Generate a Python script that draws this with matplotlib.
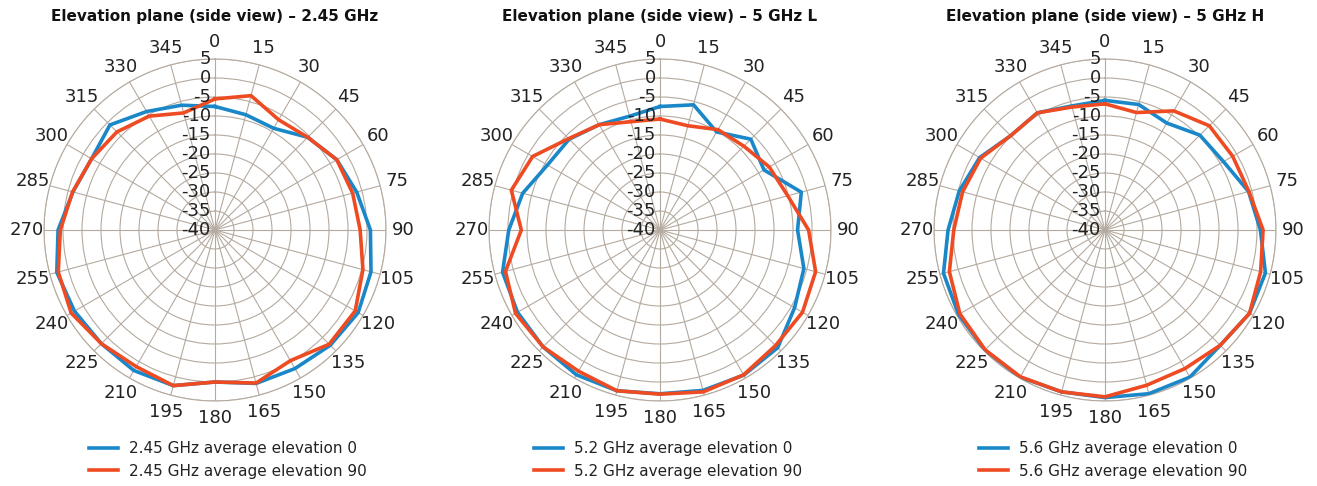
import numpy as np
import matplotlib.pyplot as plt
from matplotlib.transforms import offset_copy

angles = list(range(0, 360, 15))

titles = ['Elevation plane (side view) – 2.45 GHz',
          'Elevation plane (side view) – 5 GHz L',
          'Elevation plane (side view) – 5 GHz H']
labels0 = ['2.45 GHz average elevation 0', '5.2 GHz average elevation 0', '5.6 GHz average elevation 0']
labels90 = ['2.45 GHz average elevation 90', '5.2 GHz average elevation 90', '5.6 GHz average elevation 90']

# dB values, 0..345 step 15
g245_el0 = [-7.5, -8.6, -9.1, -5.5, -3.0, -1.4, 0.9, 2.5, 3.5, 2.9, 2.1, 1.8,
            0.0, 2.4, 2.7, 2.3, 2.7, 3.1, 1.3, -1.3, -2.5, -0.9, -4.0, -6.0]
g245_el90 = [-5.5, -3.4, -6.5, -5.5, -3.0, -2.5, -1.8, 0.3, 2.6, 2.5, -0.3, 1.7,
             0.0, 2.4, 1.5, 2.3, 3.7, 2.7, 0.7, -1.2, -2.5, -3.5, -5.4, -8.1]
g52_el0 = [-7.5, -5.9, -10.2, -6.2, -8.4, -1.5, -3.8, -0.8, 0.9, 3.8, 4.1, 3.7,
           3.1, 3.8, 4.0, 3.5, 3.3, 2.9, -0.2, -2.6, -5.8, -6.2, -8.0, -9.0]
g52_el90 = [-10.8, -11.6, -9.5, -8.8, -6.8, -5.2, -0.9, 2.4, 3.3, 3.0, 4.0, 4.1,
            3.2, 3.8, 2.9, 3.5, 3.9, 2.1, -3.5, 0.5, -1.3, -6.0, -8.0, -10.5]
g56_el0 = [-5.9, -5.8, -7.5, -4.7, -4.0, -0.9, 0.9, 3.7, 3.9, 2.9, 4.7, 4.6,
           4.1, 4.1, 4.7, 4.7, 4.5, 4.0, 1.3, -0.3, -1.9, -4.9, -4.4, -6.2]
g56_el90 = [-6.8, -8.0, -3.8, -1.2, -1.2, -0.8, 1.6, 2.4, 3.9, 2.9, 2.1, 2.3,
            3.9, 4.1, 4.6, 4.6, 4.1, 2.4, -0.2, -1.2, -2.2, -4.9, -4.4, -6.5]

series0 = [g245_el0, g52_el0, g56_el0]
series90 = [g245_el90, g52_el90, g56_el90]

blue = '#1a87c9'
red = '#ef4b23'
gridc = '#b5aa9f'

fig = plt.figure(figsize=(13.17, 4.86), dpi=100)
centers = [215, 660, 1105]
rad = 171

theta = np.radians(angles + [360])
for i in range(3):
    cx = centers[i]
    ax = fig.add_axes([(cx - rad) / 1317, (486 - 230 - rad) / 486, 2 * rad / 1317, 2 * rad / 486],
                      projection='polar')
    ax.set_theta_zero_location('N')
    ax.set_theta_direction(-1)
    ax.set_ylim(-40, 5)
    ax.set_yticks(np.arange(-40, 6, 5))
    ax.set_yticklabels([])
    ax.set_xticks(np.radians(angles))
    ax.set_xticklabels([str(a) for a in angles], fontsize=13, color='#222222')
    ax.tick_params(axis='x', pad=2)
    ax.grid(True, color=gridc, lw=0.8)
    ax.spines['polar'].set_color(gridc)
    ax.spines['polar'].set_linewidth(0.8)

    d0 = series0[i] + [series0[i][0]]
    d90 = series90[i] + [series90[i][0]]
    ax.plot(theta, d0, color=blue, lw=2.6, label=labels0[i], zorder=3)
    ax.plot(theta, d90, color=red, lw=2.6, label=labels90[i], zorder=4)

    tr = offset_copy(ax.transData, fig=fig, x=-3, y=0, units='points')
    for r in range(-40, 6, 5):
        ax.text(0, r, str(r), transform=tr, ha='right', va='center',
                fontsize=13, color='#222222', zorder=5)

    fig.text(cx / 1317, 1 - 17 / 486, titles[i], ha='center', va='center',
             fontsize=11, fontweight='bold', color='#111111')

    ax.legend(loc='upper left', bbox_to_anchor=((cx - 132) / 1317, 1 - 435 / 486),
              bbox_transform=fig.transFigure, frameon=False, fontsize=11,
              handlelength=1.9, handletextpad=0.7, labelspacing=0.5,
              borderaxespad=0, labelcolor='#222222')

fig.savefig('out.png', dpi=100)
